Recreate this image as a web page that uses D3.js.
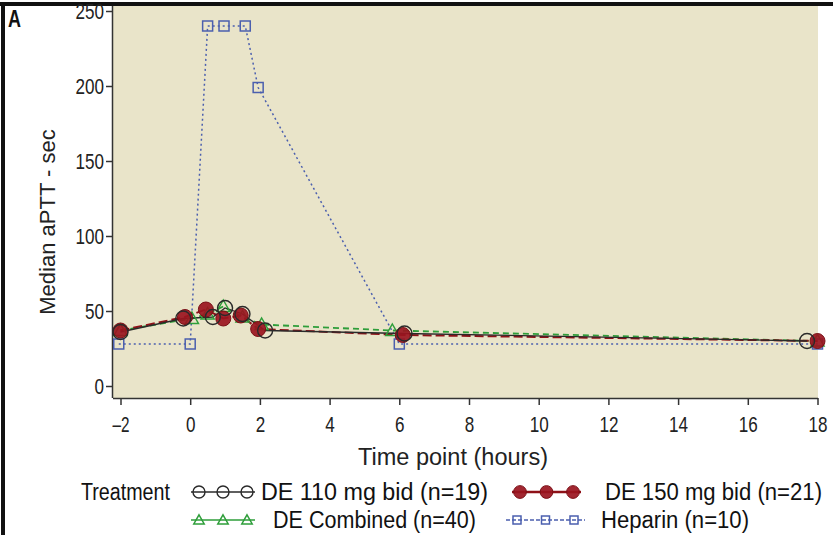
<!DOCTYPE html>
<html>
<head>
<meta charset="utf-8">
<script src="https://cdn.jsdelivr.net/npm/d3@7"></script>
<style>
  html, body { margin: 0; padding: 0; background: #fff; }
  svg { display: block; }
</style>
</head>
<body>
<svg id="chart" width="833" height="535"></svg>
<script>
// Median aPTT over time, by treatment group
const xTicks = [-2, 0, 2, 4, 6, 8, 10, 12, 14, 16, 18];
const yTicks = [0, 50, 100, 150, 200, 250];

const de110 = [[-2, 36], [-0.2, 45], [0.65, 46], [1.0, 52], [1.5, 48], [2.15, 37], [6.15, 35], [17.7, 30]];
const de150 = [[-2, 37], [-0.15, 46], [0.45, 51], [0.95, 45], [1.45, 47], [1.95, 38], [6.1, 34], [18, 30]];
const deCombined = [[-2, 37], [0.05, 45], [0.5, 48], [0.95, 53], [1.5, 46], [2.05, 41], [5.8, 37], [18, 30]];
const heparin = [[-2.05, 28], [0, 28], [0.5, 240], [0.97, 240], [1.58, 240], [1.95, 199], [6, 28], [18, 28]];

const legendLabels = ["DE 110 mg bid (n=19)", "DE 150 mg bid (n=21)", "DE Combined (n=40)", "Heparin (n=10)"];

const face = "'Liberation Sans', Arial, sans-serif";

const svg = d3.select("#chart");

const x = d3.scaleLinear().domain([-2, 18]).range([120.5, 817.5]);
const y = d3.scaleLinear().domain([0, 250]).range([386, 11]);

const plotLeft = 113, plotRight = 818, plotTop = 6, plotBottom = 398;

// Condensed lettering: squeeze text to a set width
function squeeze(sel, width) {
  sel.attr("textLength", width).attr("lengthAdjust", "spacingAndGlyphs");
}

// Plot background
svg.append("rect")
  .attr("x", plotLeft).attr("y", plotTop)
  .attr("width", plotRight - plotLeft).attr("height", plotBottom - plotTop)
  .attr("fill", "#e9e4c9");

// Frame edges of the figure
svg.append("rect").attr("x", 0).attr("y", 2).attr("width", 833).attr("height", 4).attr("fill", "#111");
svg.append("rect").attr("x", 1).attr("y", 2).attr("width", 4).attr("height", 533).attr("fill", "#111");

svg.append("text")
  .attr("x", 8).attr("y", 27)
  .attr("font-family", face).attr("font-weight", "bold").attr("font-size", 23)
  .attr("fill", "#111").text("A")
  .call(squeeze, 13);

// Axes
const fmt = d => d < 0 ? "\u2013" + Math.abs(d) : String(d);
const labelWidth = d => fmt(d).length * 9.5 + (d < 0 ? -2 : 0);

const xAxis = svg.append("g")
  .attr("transform", `translate(0,${plotBottom})`)
  .call(d3.axisBottom(x).tickValues(xTicks).tickSize(7).tickSizeOuter(0).tickFormat(fmt));
xAxis.select(".domain").attr("d", `M${plotLeft},0.5H${plotRight}`);

const yAxis = svg.append("g")
  .attr("transform", `translate(${plotLeft},0)`)
  .call(d3.axisLeft(y).tickValues(yTicks).tickSize(7).tickSizeOuter(0).tickFormat(fmt));
yAxis.select(".domain").attr("d", `M-0.5,${plotTop}V${plotBottom}`);

[xAxis, yAxis].forEach(g => {
  g.select(".domain").attr("stroke", "#333").attr("stroke-width", 1.5);
  g.selectAll(".tick line").attr("stroke", "#333").attr("stroke-width", 1.5);
  g.selectAll(".tick text")
    .attr("font-family", face).attr("font-size", 22).attr("fill", "#222")
    .each(function (d) { d3.select(this).call(squeeze, labelWidth(d)); });
});
xAxis.selectAll(".tick text").attr("y", 12).attr("dy", "1em");
yAxis.selectAll(".tick text").attr("x", -9).attr("dy", "0.36em");

svg.append("text")
  .attr("x", 453).attr("y", 465)
  .attr("text-anchor", "middle")
  .attr("font-family", face).attr("font-size", 23).attr("fill", "#222")
  .text("Time point (hours)")
  .call(squeeze, 190);

svg.append("text")
  .attr("transform", "translate(55,222) rotate(-90)")
  .attr("text-anchor", "middle")
  .attr("font-family", face).attr("font-size", 22).attr("fill", "#222")
  .text("Median aPTT - sec");

// Series styles
const series = [
  { data: heparin, color: "#4b5fae", dash: "2,3", width: 1.5, marker: "square" },
  { data: deCombined, color: "#2e9e3a", dash: "6,4", width: 1.8, marker: "triangle" },
  { data: de150, color: "#8e1118", dash: "9,4", width: 2, marker: "dot" },
  { data: de110, color: "#2a2a2a", dash: null, width: 1.3, marker: "circle" }
];

const line = d3.line().x(d => x(d[0])).y(d => y(d[1]));

function drawMarker(g, cx, cy, s, scale) {
  const k = scale || 1;
  if (s.marker === "square") {
    g.append("rect")
      .attr("x", cx - 5 * k).attr("y", cy - 5 * k)
      .attr("width", 10 * k).attr("height", 10 * k)
      .attr("fill", "none").attr("stroke", s.color).attr("stroke-width", 1.5);
  } else if (s.marker === "triangle") {
    const r = 6.5 * k;
    g.append("path")
      .attr("d", `M${cx},${cy - r}L${cx + r},${cy + r * 0.75}L${cx - r},${cy + r * 0.75}Z`)
      .attr("fill", "none").attr("stroke", s.color).attr("stroke-width", 1.5);
  } else if (s.marker === "dot") {
    g.append("circle")
      .attr("cx", cx).attr("cy", cy).attr("r", 7.5 * k)
      .attr("fill", "#9a1520").attr("fill-opacity", 0.92)
      .attr("stroke", "#7a0f16").attr("stroke-width", 1);
  } else {
    g.append("circle")
      .attr("cx", cx).attr("cy", cy).attr("r", 7.5 * k)
      .attr("fill", "none").attr("stroke", s.color).attr("stroke-width", 1.4);
  }
}

const plot = svg.append("g");
series.forEach(s => {
  plot.append("path")
    .attr("d", line(s.data))
    .attr("fill", "none")
    .attr("stroke", s.color)
    .attr("stroke-width", s.width)
    .attr("stroke-dasharray", s.dash);
});
series.forEach(s => {
  const g = plot.append("g");
  s.data.forEach(d => drawMarker(g, x(d[0]), y(d[1]), s));
});

// Legend
const legend = svg.append("g")
  .attr("font-family", face).attr("font-size", 23).attr("fill", "#111");

legend.append("text").attr("x", 81).attr("y", 500).text("Treatment").call(squeeze, 89);

const legendItems = [
  { s: series[3], x0: 191, x1: 255, tx: 261, ty: 492, tw: 227, label: legendLabels[0] },
  { s: series[2], x0: 512, x1: 581, tx: 605, ty: 492, tw: 217, label: legendLabels[1] },
  { s: series[1], x0: 191, x1: 255, tx: 273, ty: 520, tw: 203, label: legendLabels[2] },
  { s: series[0], x0: 506, x1: 585, tx: 601, ty: 520, tw: 148, label: legendLabels[3] }
];

legendItems.forEach(it => {
  const g = legend.append("g");
  g.append("line")
    .attr("x1", it.x0).attr("x2", it.x1)
    .attr("y1", it.ty).attr("y2", it.ty)
    .attr("stroke", it.s.color).attr("stroke-width", it.s.marker === "dot" ? 2.5 : 1.5)
    .attr("stroke-dasharray", it.s.marker === "square" ? "4,2" : null);
  const inset = it.s.marker === "square" ? 11 : 8;
  const step = (it.x1 - it.x0 - 2 * inset) / 2;
  for (let i = 0; i < 3; i++) {
    const cx = it.x0 + inset + i * step;
    drawMarker(g, cx, it.ty, it.s, it.s.marker === "dot" ? 0.85 : 0.8);
  }
  g.append("text").attr("x", it.tx).attr("y", it.ty + 8).text(it.label).call(squeeze, it.tw);
});
</script>
</body>
</html>
